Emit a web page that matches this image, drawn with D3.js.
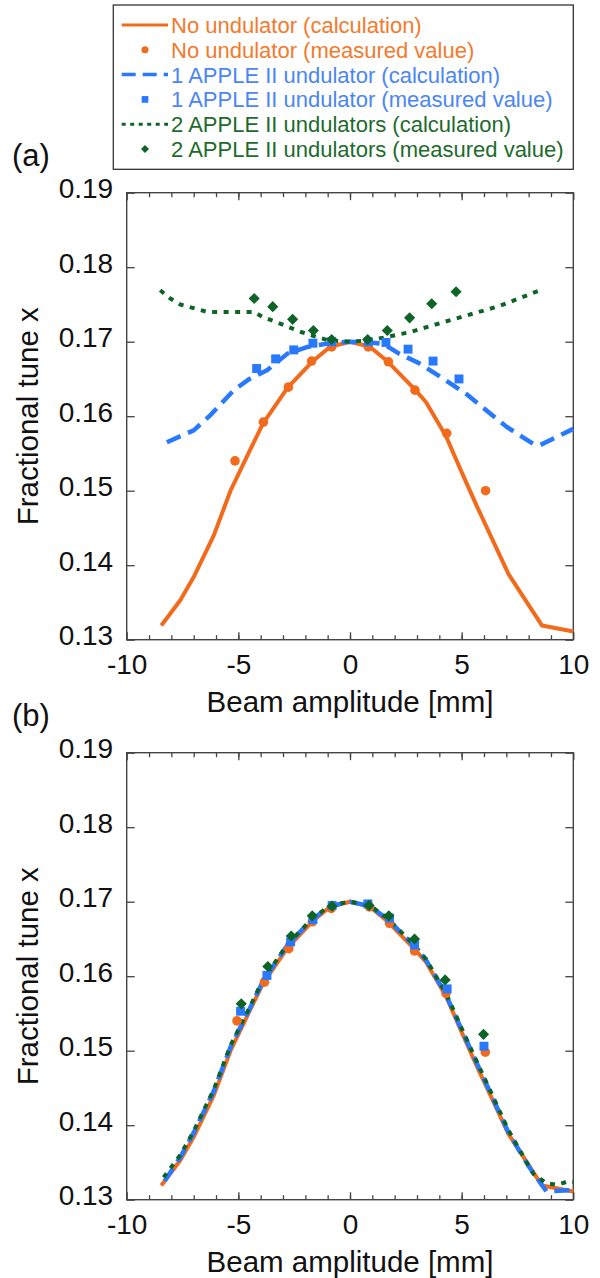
<!DOCTYPE html>
<html>
<head>
<meta charset="utf-8">
<script src="https://cdn.jsdelivr.net/npm/d3@7"></script>
<style>
  body { margin: 0; background: #fff; }
  svg { display: block; font-family: "Liberation Sans", Arial, sans-serif; }
</style>
</head>
<body>
<div id="chart"></div>
<script>
// ---- data ----
const legendLabels = [
  "No undulator (calculation)",
  "No undulator (measured value)",
  "1 APPLE II undulator (calculation)",
  "1 APPLE II undulator (measured value)",
  "2 APPLE II undulators (calculation)",
  "2 APPLE II undulators (measured value)"
];
const xTicks = [-10, -5, 0, 5, 10];
const yTicks = [0.13, 0.14, 0.15, 0.16, 0.17, 0.18, 0.19];

// no undulator, calculation (same in both panels)
const calcNoneX = [-8.45, -7.6, -7.0, -6.1, -5.35, -4.5, -3.9, -2.8, -1.7, -0.9, 0, 0.9, 1.7, 2.9, 3.4, 4.3, 5.0, 5.7, 7.1, 8.6, 10];
const calcNoneY = [0.1319, 0.1353, 0.1384, 0.1440, 0.1500, 0.1553, 0.1590, 0.1638, 0.1673, 0.1693, 0.1700, 0.1693, 0.1673, 0.1636, 0.1619, 0.1573, 0.1525, 0.1478, 0.1388, 0.1319, 0.1311];

// panel (a)
const calcOneAX = [-8.2, -7.0, -6.3, -5.2, -4.5, -3.7, -2.8, -1.9, -0.9, 0, 0.9, 1.5, 2.2, 3.1, 4.3, 5.2, 6.1, 7.0, 8.2, 8.5, 10];
const calcOneAY = [0.1565, 0.1581, 0.1600, 0.1635, 0.1650, 0.1662, 0.1684, 0.1693, 0.1698, 0.1700, 0.1699, 0.1697, 0.1684, 0.1671, 0.1648, 0.1630, 0.1608, 0.1586, 0.1563, 0.1561, 0.1583];
const calcTwoAX = [-8.5, -8.05, -7.6, -6.4, -4.3, -3.9, -3.1, -2.2, -1.0, 0, 0.9, 1.6, 2.7, 3.7, 5.2, 6.7, 8.5];
const calcTwoAY = [0.1769, 0.1758, 0.1750, 0.1740, 0.1740, 0.1733, 0.1724, 0.1713, 0.1702, 0.1700, 0.1702, 0.1706, 0.1713, 0.1722, 0.1735, 0.1748, 0.1769];

const measNoneAX = [-5.15, -3.88, -2.76, -1.72, -0.82, 0.82, 1.72, 2.91, 4.33, 6.07];
const measNoneAY = [0.1540, 0.1592, 0.1639, 0.1674, 0.1693, 0.1693, 0.1673, 0.1635, 0.1577, 0.1500];
const measOneAX = [-4.18, -3.33, -2.52, -1.66, -0.82, 0.82, 1.61, 2.60, 3.72, 4.88];
const measOneAY = [0.1664, 0.1677, 0.1689, 0.1698, 0.1700, 0.1700, 0.1699, 0.1690, 0.1674, 0.1650];
const measTwoAX = [-4.29, -3.46, -2.57, -1.64, -0.82, 0.79, 1.67, 2.67, 3.66, 4.75];
const measTwoAY = [0.1758, 0.1747, 0.1730, 0.1715, 0.1703, 0.1703, 0.1715, 0.1732, 0.1751, 0.1767];

// panel (b)
const calcOneBX = [-8.3, -7.6, -7.0, -6.1, -5.35, -4.5, -3.9, -2.8, -1.7, -0.9, 0, 0.9, 1.7, 2.9, 3.4, 4.3, 5.0, 5.7, 7.1, 8.0, 8.8, 10];
const calcOneBY = [0.1325, 0.1357, 0.1390, 0.1446, 0.1505, 0.1556, 0.1593, 0.1642, 0.1676, 0.1694, 0.1700, 0.1694, 0.1676, 0.1640, 0.1622, 0.1575, 0.1528, 0.1482, 0.1390, 0.1345, 0.1311, 0.1313];
const calcTwoBX = [-8.35, -7.6, -7.0, -6.1, -5.35, -4.5, -3.9, -2.8, -1.7, -0.9, 0, 0.9, 1.7, 2.9, 3.4, 4.3, 5.0, 5.7, 7.1, 8.2, 8.8, 9.3, 9.8, 10];
const calcTwoBY = [0.1330, 0.1360, 0.1392, 0.1448, 0.1507, 0.1558, 0.1595, 0.1643, 0.1677, 0.1695, 0.1700, 0.1695, 0.1677, 0.1641, 0.1623, 0.1577, 0.1530, 0.1484, 0.1393, 0.1335, 0.1322, 0.1320, 0.1325, 0.1324];

const measNoneBX = [-5.06, -3.83, -2.74, -1.69, -0.84, 0.87, 1.77, 2.89, 4.30, 6.06];
const measNoneBY = [0.1540, 0.1592, 0.1637, 0.1673, 0.1691, 0.1693, 0.1671, 0.1634, 0.1577, 0.1498];
const measOneBX = [-4.90, -3.72, -2.66, -1.66, -0.80, 0.80, 1.77, 2.89, 4.35, 6.00];
const measOneBY = [0.1553, 0.1601, 0.1646, 0.1676, 0.1695, 0.1697, 0.1678, 0.1642, 0.1583, 0.1506];
const measTwoBX = [-4.87, -3.68, -2.63, -1.69, -0.80, 0.85, 1.74, 2.89, 4.26, 5.98];
const measTwoBY = [0.1563, 0.1613, 0.1654, 0.1681, 0.1694, 0.1695, 0.1681, 0.1650, 0.1595, 0.1522];

const orange = "#F26B1D";
const blue = "#2979FF";
const green = "#0E6427";
const legendText = ["#F47A2C", "#F47A2C", "#4A86F5", "#4A86F5", "#1D6B2C", "#1D6B2C"];

const zip = (xs, ys) => xs.map((x, i) => [x, ys[i]]);

const W = 600, H = 1278;
const svg = d3.select("#chart").append("svg").attr("width", W).attr("height", H);

const left = 126.7, right = 573.3, plotH = 447;
const x = d3.scaleLinear().domain([-10, 10]).range([left, right]);

function drawPanel(top, tag, lines, marks) {
  const y = d3.scaleLinear().domain([0.13, 0.19]).range([top + plotH, top]);
  const g = svg.append("g");

  // axes (ticks point inward)
  const bottom = g.append("g").attr("transform", `translate(0,${top + plotH})`)
    .call(d3.axisBottom(x).tickValues(xTicks).tickSize(-7.5).tickPadding(14).tickFormat(d => String(d)));
  g.append("g").attr("transform", `translate(0,${top + plotH})`)
    .call(d3.axisBottom(x).tickValues(d3.range(-9, 10)).tickSize(-4.5).tickFormat(""));
  g.append("g").attr("transform", `translate(0,${top})`)
    .call(d3.axisTop(x).tickValues(xTicks).tickSize(-7.5).tickFormat(""));
  g.append("g").attr("transform", `translate(0,${top})`)
    .call(d3.axisTop(x).tickValues(d3.range(-9, 10)).tickSize(-4.5).tickFormat(""));
  const leftAx = g.append("g").attr("transform", `translate(${left},0)`)
    .call(d3.axisLeft(y).tickValues(yTicks).tickSize(-8).tickPadding(13.5).tickFormat(d3.format(".2f")));
  g.append("g").attr("transform", `translate(${right},0)`)
    .call(d3.axisRight(y).tickValues(yTicks).tickSize(-8).tickFormat(""));

  g.selectAll(".domain").remove();
  g.selectAll(".tick line").attr("stroke", "#444").attr("stroke-width", 1.3);
  g.selectAll(".tick text").attr("fill", "#111").style("font-size", "28px")
    .style("font-family", "'Liberation Sans', Arial, sans-serif");
  leftAx.selectAll(".tick text").attr("dy", "5px");
  bottom.selectAll(".tick text").attr("dy", "0.71em");

  g.append("rect").attr("x", left).attr("y", top).attr("width", right - left).attr("height", plotH)
    .attr("fill", "none").attr("stroke", "#444").attr("stroke-width", 1.4);

  // curves
  const line = d3.line().x(d => x(d[0])).y(d => y(d[1]));
  lines.forEach(l => {
    g.append("path").datum(l.pts).attr("d", line).attr("fill", "none")
      .attr("stroke", l.color).attr("stroke-width", l.w).attr("stroke-dasharray", l.dash)
      .attr("stroke-linejoin", "round");
  });

  // measured values
  marks.forEach(m => {
    g.selectAll(null).data(m.pts).enter().append("path")
      .attr("d", d3.symbol().type(m.type).size(m.size))
      .attr("fill", m.color)
      .attr("transform", d => `translate(${x(d[0])},${y(d[1])})` + (m.diamond ? " rotate(45)" : ""));
  });

  // titles
  g.append("text").attr("x", (left + right) / 2).attr("y", top + plotH + 72)
    .attr("text-anchor", "middle").style("font-size", "29.5px").attr("fill", "#111")
    .text("Beam amplitude [mm]");
  g.append("text").attr("transform", `translate(37.5,${top + plotH / 2}) rotate(-90)`)
    .attr("text-anchor", "middle").style("font-size", "29.5px").attr("fill", "#111")
    .text("Fractional tune x");
  g.append("text").attr("x", 12).attr("y", top - 27)
    .style("font-size", "31px").attr("fill", "#111").text(tag);
}

drawPanel(192.7, "(a)",
  [
    { pts: zip(calcNoneX, calcNoneY), color: orange, w: 4, dash: null },
    { pts: zip(calcOneAX, calcOneAY), color: blue, w: 4.5, dash: "15,8" },
    { pts: zip(calcTwoAX, calcTwoAY), color: green, w: 4, dash: "5,6.5" }
  ],
  [
    { pts: zip(measNoneAX, measNoneAY), color: orange, type: d3.symbolCircle, size: 72 },
    { pts: zip(measOneAX, measOneAY), color: blue, type: d3.symbolSquare, size: 80 },
    { pts: zip(measTwoAX, measTwoAY), color: green, type: d3.symbolSquare, size: 62, diamond: true }
  ]);

drawPanel(752.7, "(b)",
  [
    { pts: zip(calcNoneX, calcNoneY), color: orange, w: 4, dash: null },
    { pts: zip(calcOneBX, calcOneBY), color: blue, w: 4.5, dash: "15,8" },
    { pts: zip(calcTwoBX, calcTwoBY), color: green, w: 4, dash: "5,6.5" }
  ],
  [
    { pts: zip(measNoneBX, measNoneBY), color: orange, type: d3.symbolCircle, size: 72 },
    { pts: zip(measOneBX, measOneBY), color: blue, type: d3.symbolSquare, size: 80 },
    { pts: zip(measTwoBX, measTwoBY), color: green, type: d3.symbolSquare, size: 62, diamond: true }
  ]);

// legend
const lg = svg.append("g");
lg.append("rect").attr("x", 113.3).attr("y", 5).attr("width", 460).attr("height", 164.3)
  .attr("fill", "#fff").attr("stroke", "#333").attr("stroke-width", 1.3);
const rowY = i => 33 + i * 24.8;
const swatch = [
  { kind: "line", color: orange, dash: null, w: 3 },
  { kind: "mark", color: orange, type: d3.symbolCircle, size: 40 },
  { kind: "line", color: blue, dash: "14,7", w: 3.5 },
  { kind: "mark", color: blue, type: d3.symbolSquare, size: 45 },
  { kind: "line", color: green, dash: "4,4.5", w: 3 },
  { kind: "mark", color: green, type: d3.symbolSquare, size: 32, diamond: true }
];
legendLabels.forEach((label, i) => {
  const cy = rowY(i) - 8;
  const s = swatch[i];
  if (s.kind === "line") {
    lg.append("line").attr("x1", 121.7).attr("x2", 168).attr("y1", cy).attr("y2", cy)
      .attr("stroke", s.color).attr("stroke-width", s.w).attr("stroke-dasharray", s.dash);
  } else {
    lg.append("path").attr("d", d3.symbol().type(s.type).size(s.size)())
      .attr("transform", `translate(145,${cy})` + (s.diamond ? " rotate(45)" : ""))
      .attr("fill", s.color);
  }
  lg.append("text").attr("x", 171).attr("y", rowY(i)).style("font-size", "22px")
    .attr("fill", legendText[i]).text(label);
});
</script>
</body>
</html>
